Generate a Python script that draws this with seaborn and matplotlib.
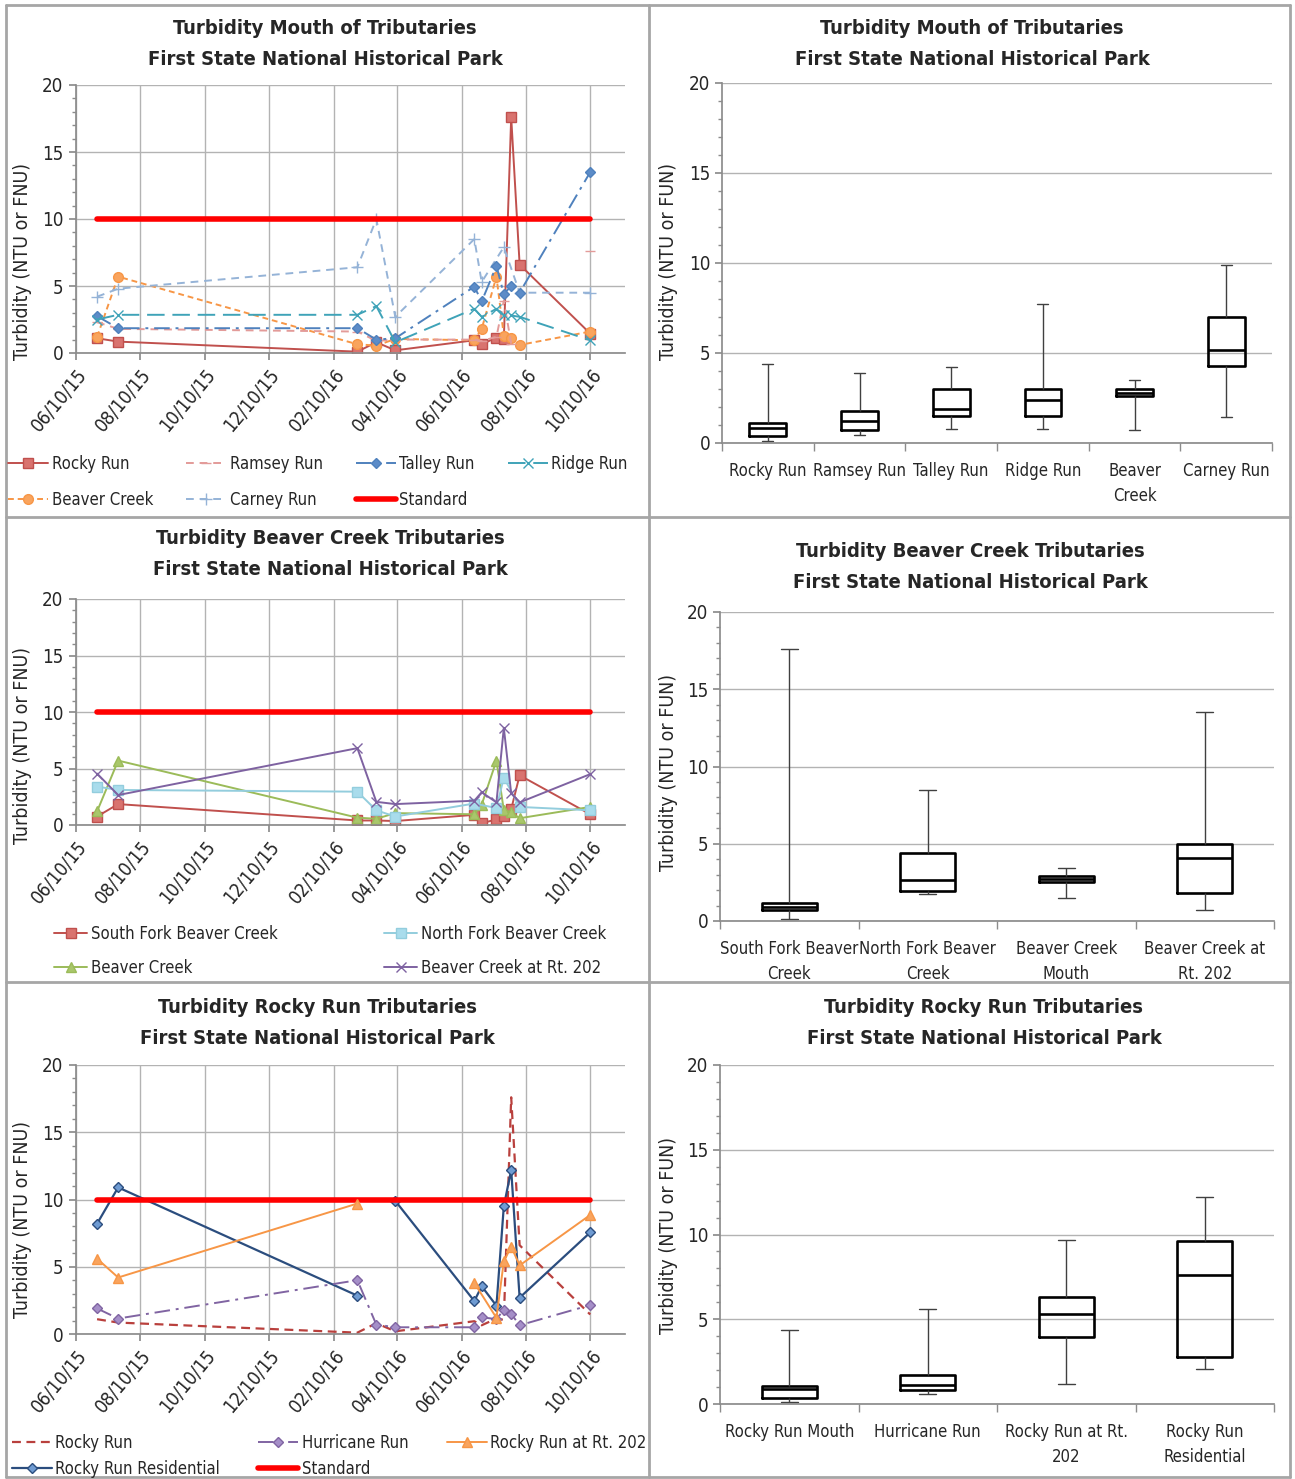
import numpy as np
import pandas as pd
import seaborn as sns
import matplotlib.pyplot as plt
from matplotlib import font_manager as fm
from matplotlib.lines import Line2D
from matplotlib.ticker import MultipleLocator, FixedLocator

W, H = 1295, 1479

# sampling dates shared by the three time series charts
dates = ['2015-06-30', '2015-07-20', '2016-03-03', '2016-03-21', '2016-04-08',
         '2016-06-22', '2016-06-29', '2016-07-13', '2016-07-20', '2016-07-27',
         '2016-08-04', '2016-10-10']
date_ticks = ['06/10/15', '08/10/15', '10/10/15', '12/10/15', '02/10/16',
              '04/10/16', '06/10/16', '08/10/16', '10/10/16']
x_start, x_end = '2015-06-10', '2016-11-12'
standard = 10

# None = no sample for that site on that date
rocky_run = [1.1, 0.85, 0.1, 0.8, 0.2, 0.95, 0.65, 1.15, 1.05, 17.6, 6.6, 1.45]
ramsey_run = [2.3, 1.8, 1.6, 0.9, 1.0, 1.0, 0.9, 1.2, 3.9, 0.7, None, 7.6]
talley_run = [2.75, 1.85, 1.85, 1.0, 1.1, 4.95, 3.85, 6.5, 4.4, 5.0, 4.5, 13.5]
ridge_run = [2.5, 2.85, 2.85, 3.5, 0.8, 3.3, 2.7, 3.3, 2.8, 2.8, 2.7, 0.95]
beaver_creek = [1.2, 5.7, 0.65, 0.55, 1.05, 0.95, 1.8, 5.7, 1.3, 1.15, 0.6, 1.6]
carney_run = [4.2, 4.8, 6.4, 10.0, 2.7, 8.5, 5.3, None, 7.9, None, 4.5, 4.5]

south_fork = [0.75, 1.85, 0.4, 0.4, 0.35, 0.9, 0.15, 0.5, 0.8, 1.4, 4.4, 0.95]
north_fork = [3.4, 3.1, 2.95, 1.3, 0.75, 1.9, None, 1.5, 4.2, None, 1.6, 1.3]
beaver_202 = [4.55, 2.65, 6.8, 2.05, 1.85, 2.15, 2.9, 2.0, 8.6, 2.8, 2.0, 4.5]

hurricane_run = [1.9, 1.15, 4.0, 0.7, 0.5, 0.5, 1.25, 1.1, 1.8, 1.5, 0.65, 2.15]
rocky_202 = [5.6, 4.2, 9.7, None, None, 3.8, None, 1.2, 5.4, 6.5, 5.1, 8.85]
rocky_residential = [8.2, 10.9, 2.85, None, 9.9, 2.45, 3.55, 2.1, 9.5, 12.2, 2.7, 7.55]

# blank cells in the sheet -> the line starts again at these dates
breaks = {'Ramsey Run': ['2016-10-10'],
          'Rocky Run at Rt. 202': ['2016-06-22'],
          'Rocky Run Residential': ['2016-04-08']}

# box plot summaries: min, q1, median, q3, max
mouth_sites = ['Rocky Run', 'Ramsey Run', 'Talley Run', 'Ridge Run', 'Beaver\nCreek', 'Carney Run']
mouth_min = [0.1, 0.45, 0.8, 0.8, 0.75, 1.45]
mouth_q1 = [0.4, 0.7, 1.5, 1.5, 2.6, 4.3]
mouth_med = [0.85, 1.2, 1.9, 2.4, 2.8, 5.15]
mouth_q3 = [1.1, 1.8, 3.0, 3.0, 3.0, 7.0]
mouth_max = [4.4, 3.9, 4.2, 7.7, 3.5, 9.9]

beaver_sites = ['South Fork Beaver\nCreek', 'North Fork Beaver\nCreek',
                'Beaver Creek\nMouth', 'Beaver Creek at\nRt. 202']
beaver_min = [0.1, 1.75, 1.5, 0.7]
beaver_q1 = [0.7, 1.95, 2.5, 1.8]
beaver_med = [0.9, 2.65, 2.7, 4.1]
beaver_q3 = [1.15, 4.4, 2.9, 5.0]
beaver_max = [17.6, 8.5, 3.4, 13.5]

rocky_sites = ['Rocky Run Mouth', 'Hurricane Run', 'Rocky Run at Rt.\n202', 'Rocky Run\nResidential']
rocky_min = [0.1, 0.6, 1.2, 2.05]
rocky_q1 = [0.35, 0.85, 3.95, 2.75]
rocky_med = [0.9, 1.15, 5.3, 7.6]
rocky_q3 = [1.05, 1.7, 6.3, 9.6]
rocky_max = [4.35, 5.6, 9.7, 12.2]

sns.set_theme(style='white')
plt.rcParams['font.family'] = ['Liberation Sans Narrow', 'DejaVu Sans']
# the Excel text is narrow; use the condensed DejaVu cut when it is there
condensed = any('Condensed' in f.fname for f in fm.fontManager.ttflist)
if condensed:
    plt.rcParams['font.stretch'] = 'condensed'
k = 1.0 if condensed else 0.84
plt.rcParams['text.color'] = '#262626'

GRID = '#B3B3B3'
AXIS = '#8C8C8C'
FS_TICK = 13.5 * k
FS_LAB = 12 * k

fig = plt.figure(figsize=(W / 100, H / 100), dpi=100)


def px_axes(l, t, r, b):
    return fig.add_axes([l / W, 1 - b / H, (r - l) / W, (b - t) / H])


def fig_text(x, y, s, **kw):
    fig.text(x / W, 1 - y / H, s, **kw)


def draw_series(ax, label, values, color, ls, marker=None, mfc=None, ms=6, lw=1.4):
    df = pd.DataFrame({'date': pd.to_datetime(dates), 'value': values}).dropna()
    starts = pd.to_datetime(breaks.get(label, []))
    df['piece'] = df['date'].isin(starts).cumsum()
    sns.lineplot(data=df, x='date', y='value', units='piece', estimator=None,
                 color=color, linestyle=ls, linewidth=lw, marker=marker,
                 markersize=ms, markerfacecolor=mfc or color, markeredgecolor=color,
                 markeredgewidth=1.0, ax=ax, legend=False)
    return Line2D([], [], color=color, linestyle=ls, linewidth=lw, marker=marker,
                  markersize=ms, markerfacecolor=mfc or color, markeredgecolor=color,
                  markevery=[1])


def draw_standard(ax):
    df = pd.DataFrame({'date': pd.to_datetime([dates[0], dates[-1]]),
                       'value': [standard, standard]})
    sns.lineplot(data=df, x='date', y='value', color='#FF0000', linewidth=4,
                 ax=ax, legend=False)
    return Line2D([], [], color='#FF0000', linewidth=4)


def style_time_axis(ax):
    ax.set_xlim(pd.Timestamp(x_start), pd.Timestamp(x_end))
    ax.set_ylim(0, 20)
    ax.set_xticks(pd.to_datetime(date_ticks, format='%m/%d/%y'))
    ax.set_xticklabels(date_ticks, rotation=50, ha='right', rotation_mode='anchor')
    ax.set_yticks([0, 5, 10, 15, 20])
    ax.yaxis.set_minor_locator(MultipleLocator(1))
    ax.grid(True, which='major', color=GRID, linewidth=1)
    ax.set_axisbelow(True)
    for s in ['top', 'right']:
        ax.spines[s].set_visible(False)
    for s in ['left', 'bottom']:
        ax.spines[s].set_color(AXIS)
    ax.tick_params(which='major', length=5, color=AXIS, labelsize=FS_TICK, pad=4)
    ax.tick_params(axis='y', which='minor', left=True, length=3, color=AXIS)
    ax.tick_params(axis='y', which='major', left=True)
    ax.tick_params(axis='x', which='major', bottom=True)
    ax.set_xlabel('')
    ax.set_ylabel('')


def draw_boxes(ax, sites, lo, q1, med, q3, hi):
    stats = np.column_stack([lo, q1, med, q3, hi]).ravel()
    long = pd.DataFrame({'site': np.repeat(sites, 5), 'turbidity': stats})
    sns.boxplot(data=long, x='site', y='turbidity', order=sites, whis=(0, 100),
                width=0.4, fill=False, color='black', linewidth=1.9,
                whiskerprops={'linewidth': 1.0, 'color': '#404040'},
                capprops={'linewidth': 1.0, 'color': '#404040'},
                medianprops={'linewidth': 1.9, 'color': 'black'}, ax=ax)
    # Excel draws short whisker caps
    for line in ax.lines:
        xd, yd = np.asarray(line.get_xdata(), float), np.asarray(line.get_ydata(), float)
        if len(xd) == 2 and yd[0] == yd[1] and line.get_linewidth() < 1.5:
            c = xd.mean()
            line.set_xdata([c - 0.06, c + 0.06])
    n = len(sites)
    ax.set_xlim(-0.5, n - 0.5)
    ax.set_ylim(0, 20)
    ax.set_yticks([0, 5, 10, 15, 20])
    ax.yaxis.set_minor_locator(MultipleLocator(1))
    ax.xaxis.set_minor_locator(FixedLocator(np.arange(n + 1) - 0.5))
    ax.grid(True, axis='y', which='major', color=GRID, linewidth=1)
    ax.grid(False, axis='x')
    ax.set_axisbelow(True)
    for s in ['top', 'right']:
        ax.spines[s].set_visible(False)
    for s in ['left', 'bottom']:
        ax.spines[s].set_color(AXIS)
    ax.tick_params(axis='x', which='major', length=0, labelsize=FS_LAB, pad=14)
    ax.tick_params(axis='x', which='minor', bottom=True, length=6, color=AXIS)
    ax.tick_params(axis='y', which='major', left=True, length=5, color=AXIS, labelsize=FS_TICK)
    ax.tick_params(axis='y', which='minor', left=True, length=3, color=AXIS)
    for lab in ax.get_xticklabels():
        lab.set_linespacing(1.5)
    ax.set_xlabel('')
    ax.set_ylabel('')


title2 = 'First State National Historical Park'
title_kw = dict(ha='center', va='center', fontsize=14.5 * k, fontweight='bold', linespacing=1.75)
ylab_kw = dict(ha='center', va='center', rotation=90, fontsize=14 * k)
leg_kw = dict(loc='center', frameon=False, fontsize=FS_LAB, handletextpad=0.2)

# ---- top left: mouth of tributaries, time series
ax = px_axes(76, 85, 625, 353)
h = [draw_series(ax, 'Rocky Run', rocky_run, '#C0504D', '-', 's', '#D9736F', 6.5),
     draw_series(ax, 'Beaver Creek', beaver_creek, '#F79646', (0, (3, 2)), 'o', '#F9A45E', 7),
     draw_series(ax, 'Ramsey Run', ramsey_run, '#E39B99', (0, (4, 3)), '_', None, 7),
     draw_series(ax, 'Carney Run', carney_run, '#95B3D7', (0, (4, 3)), '+', None, 8),
     draw_series(ax, 'Talley Run', talley_run, '#4F81BD', (0, (8, 3, 1.5, 3)), 'D', '#5C8CC8', 5.5),
     draw_standard(ax),
     draw_series(ax, 'Ridge Run', ridge_run, '#3FA3B8', (0, (9, 4)), 'x', None, 7)]
labels = ['Rocky Run', 'Beaver Creek', 'Ramsey Run', 'Carney Run', 'Talley Run', 'Standard', 'Ridge Run']
style_time_axis(ax)
fig.legend(h, labels, ncol=4, bbox_to_anchor=(318 / W, 1 - 482 / H), handlelength=2.4,
           columnspacing=2.0, labelspacing=1.1, **leg_kw)
fig_text(325, 44, 'Turbidity Mouth of Tributaries\n' + title2, **title_kw)
fig_text(22, 262, 'Turbidity (NTU or FNU)', **ylab_kw)

# ---- top right: mouth of tributaries, boxes
ax = px_axes(722, 83, 1272, 443)
draw_boxes(ax, mouth_sites, mouth_min, mouth_q1, mouth_med, mouth_q3, mouth_max)
fig_text(972, 44, 'Turbidity Mouth of Tributaries\n' + title2, **title_kw)
fig_text(668, 262, 'Turbidity (NTU or FUN)', **ylab_kw)

# ---- middle left: beaver creek tributaries, time series
ax = px_axes(76, 599, 625, 825)
h = [draw_series(ax, 'South Fork Beaver Creek', south_fork, '#C0504D', '-', 's', '#D9736F', 6.5),
     draw_series(ax, 'Beaver Creek', beaver_creek, '#9BBB59', '-', '^', '#A9C76B', 7),
     draw_series(ax, 'North Fork Beaver Creek', north_fork, '#93CDDD', '-', 's', '#A9DCEC', 6.5),
     draw_series(ax, 'Beaver Creek at Rt. 202', beaver_202, '#7E62A1', '-', 'x', None, 7)]
draw_standard(ax)
labels = ['South Fork Beaver Creek', 'Beaver Creek', 'North Fork Beaver Creek', 'Beaver Creek at Rt. 202']
style_time_axis(ax)
fig.legend(h, labels, ncol=2, bbox_to_anchor=(330 / W, 1 - 951 / H), handlelength=2.0,
           columnspacing=6.4, labelspacing=1.0, **leg_kw)
fig_text(330, 554, 'Turbidity Beaver Creek Tributaries\n' + title2, **title_kw)
fig_text(22, 746, 'Turbidity (NTU or FNU)', **ylab_kw)

# ---- middle right: beaver creek tributaries, boxes
ax = px_axes(720, 612, 1274, 921)
draw_boxes(ax, beaver_sites, beaver_min, beaver_q1, beaver_med, beaver_q3, beaver_max)
fig_text(970, 567, 'Turbidity Beaver Creek Tributaries\n' + title2, **title_kw)
fig_text(668, 772, 'Turbidity (NTU or FUN)', **ylab_kw)

# ---- bottom left: rocky run tributaries, time series
ax = px_axes(76, 1065, 625, 1334)
h = [draw_series(ax, 'Rocky Run', rocky_run, '#B9403D', (0, (4, 2.5)), None, None, 6, 1.6),
     draw_series(ax, 'Rocky Run Residential', rocky_residential, '#2B4D7E', '-', 'D', '#6F9BD2', 5.5, 1.6),
     draw_series(ax, 'Hurricane Run', hurricane_run, '#8064A2', (0, (8, 3, 1.5, 3)), 'D', '#A58FC8', 5.5),
     draw_standard(ax),
     draw_series(ax, 'Rocky Run at Rt. 202', rocky_202, '#F79646', '-', '^', '#F9A45E', 7)]
labels = ['Rocky Run', 'Rocky Run Residential', 'Hurricane Run', 'Standard', 'Rocky Run at Rt. 202']
style_time_axis(ax)
fig.legend(h, labels, ncol=3, bbox_to_anchor=(329 / W, 1 - 1456 / H), handlelength=2.4,
           columnspacing=2.3, labelspacing=0.5, **leg_kw)
fig_text(317, 1023, 'Turbidity Rocky Run Tributaries\n' + title2, **title_kw)
fig_text(22, 1220, 'Turbidity (NTU or FNU)', **ylab_kw)

# ---- bottom right: rocky run tributaries, boxes
ax = px_axes(720, 1065, 1274, 1404)
draw_boxes(ax, rocky_sites, rocky_min, rocky_q1, rocky_med, rocky_q3, rocky_max)
fig_text(984, 1023, 'Turbidity Rocky Run Tributaries\n' + title2, **title_kw)
fig_text(668, 1235, 'Turbidity (NTU or FUN)', **ylab_kw)

# panel frames
frame = dict(color='#A6A6A6', linewidth=2, transform=fig.transFigure)
for x0, y0, x1, y1 in [(6, 5, 1290, 5), (6, 1477, 1290, 1477), (6, 5, 6, 1477),
                       (1290, 5, 1290, 1477), (649, 5, 649, 1477),
                       (6, 517, 1290, 517), (6, 982, 1290, 982)]:
    fig.add_artist(Line2D([x0 / W, x1 / W], [1 - y0 / H, 1 - y1 / H], **frame))

fig.savefig('out.png', dpi=100)
